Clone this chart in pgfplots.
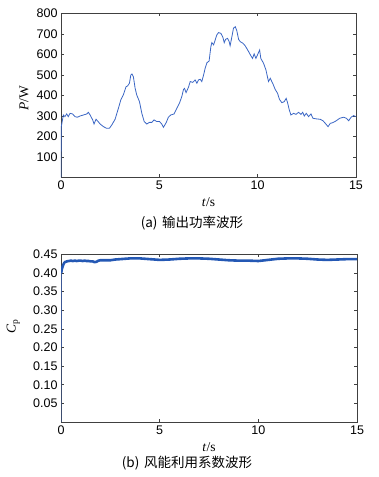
\documentclass[border=0pt]{standalone}
\usepackage{pgfplots}
\pgfplotsset{compat=1.18}
\usepackage{fontspec}
\setmainfont{Liberation Serif}
\newfontfamily\tickfont{Liberation Sans}
\newfontfamily\cjk{Noto Sans CJK SC}
\definecolor{lineblue}{HTML}{3A66C4}
\definecolor{bandblue}{HTML}{2458B4}
\begin{document}
\begin{tikzpicture}[x=1pt,y=1pt]
\useasboundingbox (0,0) rectangle (379,477);
\pgfplotsset{myax/.style={scale only axis, xmin=0, xmax=15, xtick={0,5,10,15},
  tick align=inside, major tick length=3pt,
  axis line style={line width=0.5pt, black!75},
  every tick/.style={black!75, line width=0.5pt},
  tick label style={font=\fontsize{12.5}{14}\tickfont},
  /pgf/number format/assume math mode=true,
  label style={font=\fontsize{13.5}{15}\selectfont},
  xlabel={\textit{t}/s}}}

\begin{axis}[myax, at={(61pt,299.7pt)}, anchor=south west, width=295pt, height=164pt,
  ymin=0, ymax=800, ytick={100,200,300,400,500,600,700,800},
  ylabel={\textit{P}/W},
  xlabel style={at={(axis description cs:0.5,-0.152)}, anchor=center},
  ylabel style={at={(axis description cs:-0.125,0.48)}, anchor=center}]
\addplot[lineblue, line width=0.8pt] coordinates {
(0,0) (0.01,247) (0.03,255) (0.12,304) (0.2,296) (0.29,309) (0.37,296) (0.46,312)
(0.59,309) (0.71,296) (0.83,293) (0.97,299) (1.14,304) (1.31,309) (1.39,317)
(1.48,304) (1.61,280) (1.68,260) (1.78,283) (1.85,276) (1.99,260) (2.16,247)
(2.32,239) (2.46,239) (2.58,255) (2.75,283) (2.92,337) (3.04,377) (3.17,402)
(3.31,442) (3.39,446) (3.48,459) (3.55,499) (3.61,504) (3.68,491) (3.77,434)
(3.85,402) (3.99,369) (4.11,312) (4.23,272) (4.36,260) (4.50,268) (4.62,268)
(4.73,280) (4.87,272) (5.01,272) (5.12,260) (5.21,244) (5.35,267) (5.46,293)
(5.58,304) (5.75,309) (5.89,337) (6.02,361) (6.14,393) (6.23,429) (6.28,434)
(6.36,413) (6.48,439) (6.57,467) (6.70,463) (6.82,475) (6.91,459) (6.99,475)
(7.08,478) (7.16,467) (7.25,499) (7.33,532) (7.42,559) (7.53,567) (7.62,637)
(7.67,657) (7.76,646) (7.84,670) (7.92,694) (8.01,706) (8.13,702) (8.23,683)
(8.30,657) (8.37,673) (8.47,678) (8.55,662) (8.60,642) (8.69,686) (8.77,727)
(8.86,735) (8.94,715) (9.03,673) (9.11,662) (9.25,654) (9.37,641) (9.54,613)
(9.66,592) (9.74,580) (9.82,602) (9.91,580) (9.99,597) (10.10,621) (10.16,580)
(10.30,556) (10.42,524) (10.55,467) (10.64,483) (10.78,455) (10.89,429)
(11.01,410) (11.11,380) (11.23,364) (11.35,369) (11.45,385) (11.52,364)
(11.61,328) (11.69,304) (11.83,312) (11.95,307) (12.08,317) (12.20,307)
(12.29,317) (12.37,299) (12.47,312) (12.59,296) (12.71,309) (12.81,288)
(12.98,285) (13.18,283) (13.32,276) (13.44,263) (13.58,247) (13.69,263)
(13.83,267) (14.00,276) (14.17,288) (14.37,293) (14.51,288) (14.63,276)
(14.75,293) (14.88,301) (15,296)
};
\end{axis}

\begin{axis}[myax, at={(61pt,55pt)}, anchor=south west, width=296pt, height=167.7pt,
  ymin=0, ymax=0.45, ytick={0.05,0.10,0.15,0.20,0.25,0.30,0.35,0.40,0.45},
  yticklabel style={/pgf/number format/.cd, fixed, fixed zerofill, precision=2},
  ylabel={\textit{C}\textsubscript{p}},
  xlabel style={at={(axis description cs:0.5,-0.149)}, anchor=center},
  ylabel style={at={(axis description cs:-0.161,0.571)}, anchor=center}]
\addplot[lineblue, line width=0.8pt] coordinates {(0,0) (0.01,0.40)};
\addplot[bandblue, line width=2.6pt] coordinates {
(0.01,0.400) (0.05,0.412) (0.10,0.420) (0.15,0.426) (0.20,0.429) (0.30,0.431)
(0.40,0.432) (0.50,0.433) (0.60,0.432) (0.70,0.433) (0.80,0.432) (0.90,0.433)
(1.00,0.433) (1.10,0.432) (1.20,0.433) (1.30,0.432) (1.40,0.432) (1.50,0.431)
(1.60,0.431) (1.70,0.429) (1.80,0.430) (1.90,0.433) (2.00,0.434) (2.25,0.434)
(2.50,0.434) (2.75,0.436) (3.00,0.437) (3.25,0.438) (3.50,0.439) (4.00,0.439)
(4.50,0.437) (5.00,0.435) (5.50,0.436) (6.00,0.438) (6.50,0.439) (7.00,0.439)
(7.50,0.438) (8.00,0.436) (8.50,0.434) (9.00,0.433) (9.50,0.433) (10.00,0.432)
(10.50,0.435) (11.00,0.438) (11.50,0.439) (12.00,0.439) (12.50,0.438)
(13.00,0.436) (13.50,0.435) (14.00,0.436) (14.50,0.437) (15.00,0.437)
};
\end{axis}

\node[font=\fontsize{13.5}{15}\cjk] at (192,254) {(a)\hspace{0.35em}输出功率波形};
\node[font=\fontsize{13.5}{15}\cjk] at (187,13.5) {(b)\hspace{0.35em}风能利用系数波形};
\end{tikzpicture}
\end{document}
